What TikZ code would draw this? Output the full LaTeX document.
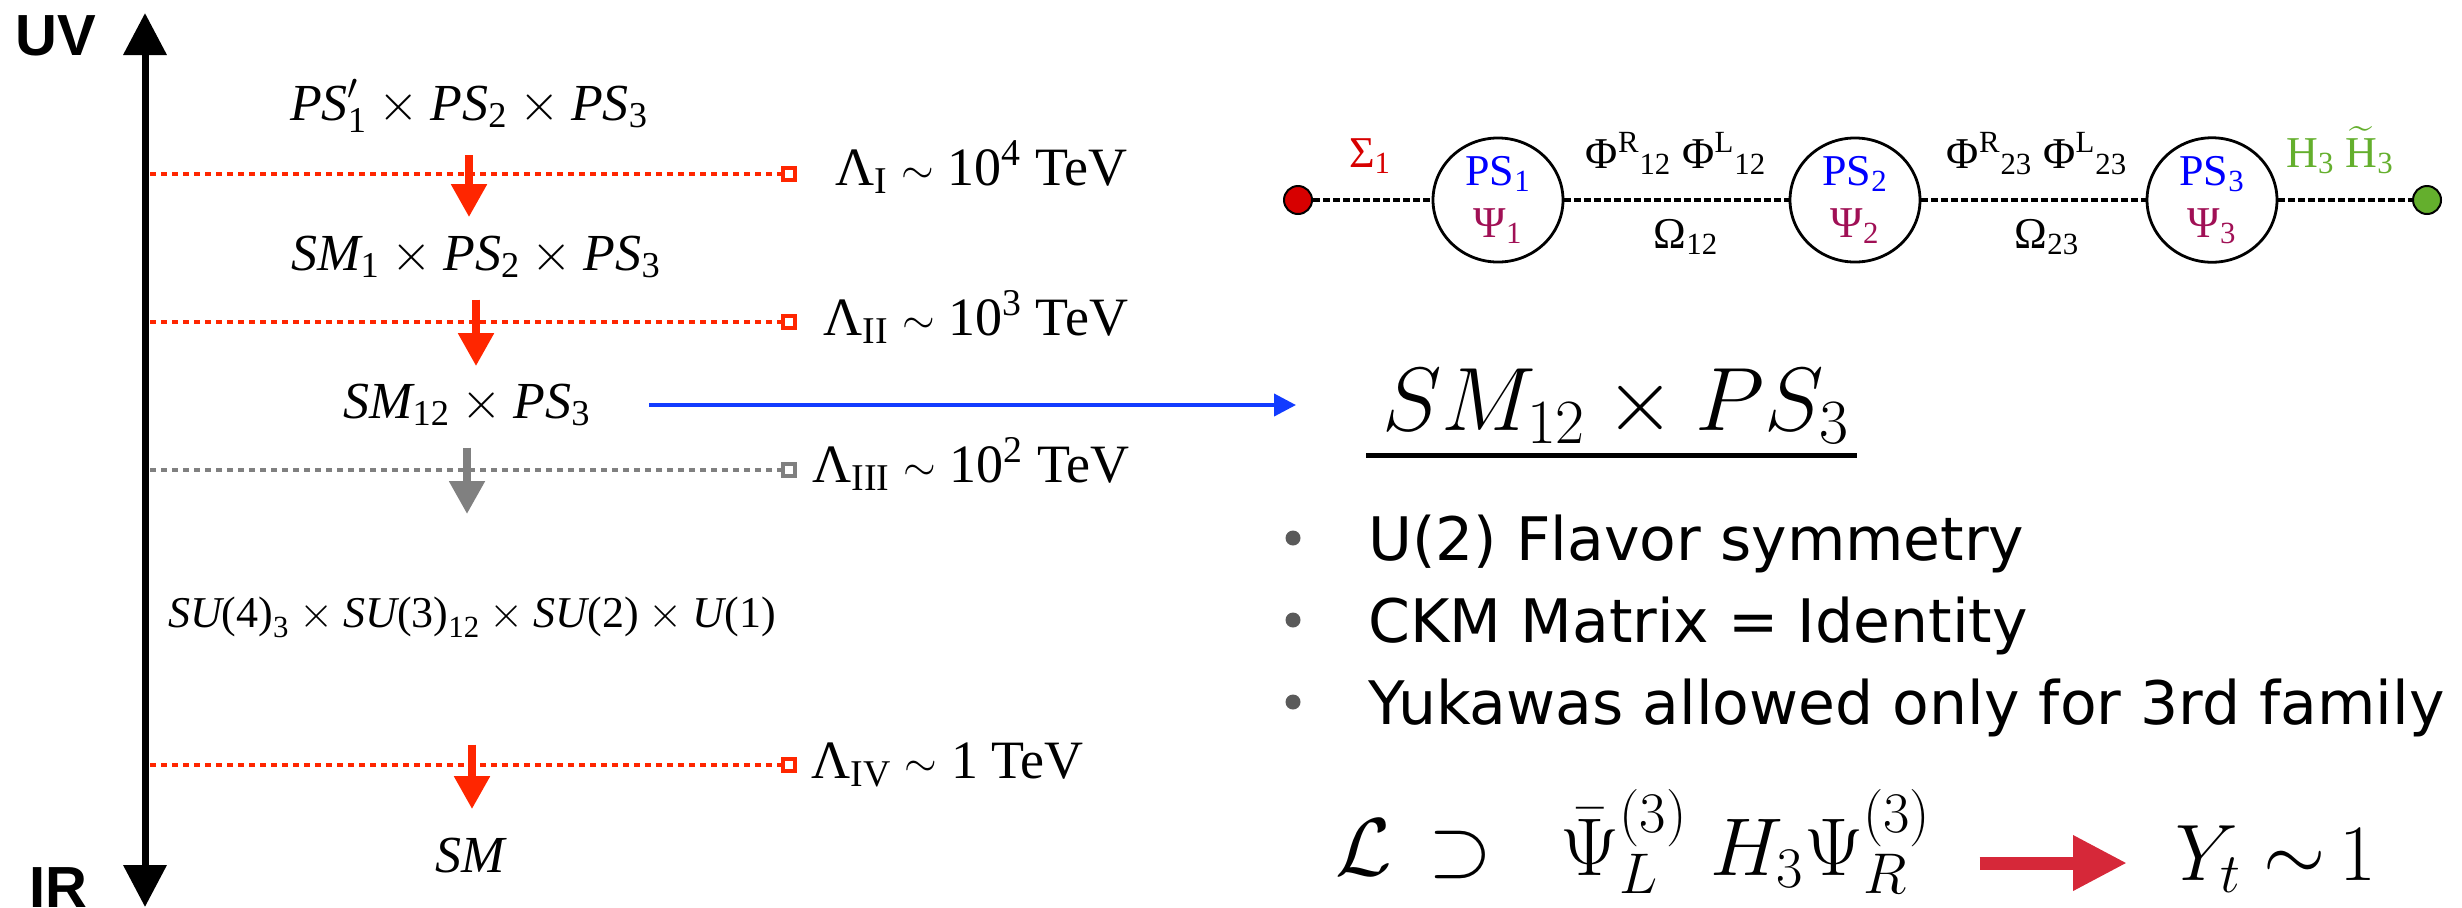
\RequirePackage{fix-cm}
\documentclass[tikz,border=0pt]{standalone}
\usepackage{amsmath}
\usepackage[no-math]{fontspec}
\setmainfont{Liberation Serif}
\newfontfamily\axisfnt{Liberation Sans}
\newfontfamily\notefnt{DejaVu Sans}
\usepackage{xcolor}
\usetikzlibrary{arrows.meta,positioning,shapes.geometric,calc}
\definecolor{cutRed}{RGB}{255,38,0}
\definecolor{cutGray}{RGB}{128,128,128}
\definecolor{flowBlue}{RGB}{18,60,255}
\definecolor{sigRed}{RGB}{215,0,0}
\definecolor{higGreen}{RGB}{100,175,45}
\definecolor{psBlue}{RGB}{0,0,255}
\definecolor{psiPurple}{RGB}{160,16,85}
\definecolor{yukRed}{RGB}{214,40,57}
\definecolor{dotGray}{RGB}{90,90,90}
\newcommand{\simsmall}{\raisebox{1pt}{\fontsize{21}{25}\selectfont$\sim$}}

\begin{document}
\begin{tikzpicture}[x=0.5pt, y=-0.5pt,
  axisline/.style={line width=3.5pt, {Triangle[width=21pt,length=21pt]}-{Triangle[width=21pt,length=21pt]}},
  axislabel/.style={inner sep=0pt, anchor=base west, font=\axisfnt\bfseries\fontsize{29}{34}\selectfont},
  lvltext/.style={inner sep=0pt, anchor=base, font=\fontsize{26}{31}\selectfont},
  scaletext/.style={inner sep=0pt, anchor=base west, font=\fontsize{27}{32}\selectfont},
  cutline/.style={line width=2pt, dash pattern=on 3pt off 2.5pt},
  cutsq/.style={draw=#1, fill=white, line width=1.8pt, minimum size=5.8pt, inner sep=0pt},
  dropdown/.style={draw=#1, line width=4pt, -{Triangle[width=17pt,length=16.5pt]}},
  fieldnode/.style={ellipse, draw, line width=1.4pt, minimum width=65pt, minimum height=58pt, inner sep=0pt, align=center, font=\fontsize{22}{26}\selectfont},
  enddot/.style={circle, draw, line width=1pt, minimum size=14pt, inner sep=0pt},
  linkline/.style={line width=1.6pt, dash pattern=on 3.3pt off 1.7pt},
  linklabel/.style={inner sep=0pt, anchor=base, font=\fontsize{22}{26}\selectfont},
  notetext/.style={inner sep=0pt, anchor=base west, font=\notefnt\fontsize{30}{36}\selectfont},
  notedot/.style={circle, fill=dotGray, minimum size=7.5pt, inner sep=0pt},
  mathbig/.style={inner sep=0pt, anchor=base west, font=\fontsize{40}{48}\selectfont}]

  \useasboundingbox (0,0) rectangle (2462,907);

  \coordinate (uvtip) at (145,13);
  \coordinate (irtip) at (145,907);
  \draw[axisline] (irtip) -- (uvtip);
  \node[axislabel] (uv) at (15,55) {UV};
  \node[axislabel] (ir) at (29,907) {IR};

  \foreach \nm/\yy/\cc in {I/174/cutRed, II/322/cutRed, III/470/cutGray, IV/765/cutRed} {
    \draw[cutline, \cc, shorten <=2.5pt] (uvtip |- 0,\yy) -- (789,\yy);
    \node[cutsq=\cc] (sq\nm) at (789,\yy) {};
  }
  \node[scaletext] (lamI) at (835,185) {Λ\textsubscript{I} \simsmall{} 10\textsuperscript{4} TeV};
  \node[scaletext] (lamII) at (823,335) {Λ\textsubscript{II} \simsmall{} 10\textsuperscript{3} TeV};
  \node[scaletext] (lamIII) at (812,482) {Λ\textsubscript{III} \simsmall{} 10\textsuperscript{2} TeV};
  \node[scaletext] (lamIV) at (811,778) {Λ\textsubscript{IV} \simsmall{} 1 TeV};

  \node[lvltext] (lvl1) at (469,120) {$\textit{PS}'_{\textup{1}}\times\textit{PS}_{\textup{2}}\times\textit{PS}_{\textup{3}}$};
  \node[lvltext] (lvl2) at (476,270) {$\textit{SM}_{\textup{1}}\times\textit{PS}_{\textup{2}}\times\textit{PS}_{\textup{3}}$};
  \node[lvltext] (lvl3) at (467,418) {$\textit{SM}_{\textup{12}}\times\textit{PS}_{\textup{3}}$};
  \node[lvltext, font=\fontsize{22}{26}\selectfont] (lvl4) at (472,627) {$\textit{SU}\textup{(4)}_{\textup{3}}\times\textit{SU}\textup{(3)}_{\textup{12}}\times\textit{SU}\textup{(2)}\times\textit{U}\textup{(1)}$};
  \node[lvltext] (lvl5) at (471,872) {\textit{SM}};

  \draw[dropdown=cutRed, shorten <=11pt, shorten >=9pt] (lvl1.south) -- (lvl1.south |- lvl2.north);
  \draw[dropdown=cutRed, shorten <=10.5pt, shorten >=8.5pt] (lvl2.south) -- (lvl2.south |- lvl3.north);
  \draw[dropdown=cutGray, shorten <=10.5pt, shorten >=41pt] (lvl3.south) -- (lvl3.south |- lvl4.north);
  \draw[dropdown=cutRed, shorten <=53pt, shorten >=14pt] (lvl4.south) -- (lvl4.south |- lvl5.north);

  \node[enddot, fill=sigRed] (sig) at (1298,200) {};
  \node[fieldnode] (ps1) at (1498,200) {\textcolor{psBlue}{PS\textsubscript{1}}\\\textcolor{psiPurple}{Ψ\textsubscript{1}}};
  \node[fieldnode] (ps2) at (1855,200) {\textcolor{psBlue}{PS\textsubscript{2}}\\\textcolor{psiPurple}{Ψ\textsubscript{2}}};
  \node[fieldnode] (ps3) at (2212,200) {\textcolor{psBlue}{PS\textsubscript{3}}\\\textcolor{psiPurple}{Ψ\textsubscript{3}}};
  \node[enddot, fill=higGreen] (hig) at (2427,200) {};
  \draw[linkline] (sig) -- (ps1);
  \draw[linkline] (ps1) -- (ps2);
  \draw[linkline] (ps2) -- (ps3);
  \draw[linkline] (ps3) -- (hig);
  \node[linklabel, sigRed] (siglab) at (1370,167) {Σ\textsubscript{1}};
  \node[linklabel] (phi12) at (1676,168) {Φ\textsuperscript{R}\textsubscript{12} Φ\textsuperscript{L}\textsubscript{12}};
  \node[linklabel] (om12) at (1686,248) {Ω\textsubscript{12}};
  \node[linklabel] (phi23) at (2037,168) {Φ\textsuperscript{R}\textsubscript{23} Φ\textsuperscript{L}\textsubscript{23}};
  \node[linklabel] (om23) at (2047,248) {Ω\textsubscript{23}};
  \node[linklabel, higGreen] (higlab) at (2340,167) {H\textsubscript{3} $\widetilde{\mbox{H}}$\textsubscript{3}};

  \node[inner sep=0pt, anchor=base west, font=\fontsize{45}{54}\selectfont] (head) at (1382,430) {$SM_{12}\times PS_3$};
  \draw[line width=2.5pt] ([shift={(-8pt,-12.5pt)}]head.base west) -- ([shift={(4pt,-12.5pt)}]head.base east);
  \draw[flowBlue, line width=2pt, -{Triangle[width=11pt,length=11pt]}, shorten <=29pt, shorten >=43pt]
    ([yshift=6.5pt]lvl3.base east) -- ([yshift=6.5pt]lvl3.base east -| head.west);

  \foreach \txt [count=\i] in {U(2) Flavor symmetry, CKM Matrix = Identity, Yukawas allowed only for 3rd family} {
    \node[notetext] (note\i) at (1368,{560+82*(\i-1)}) {\txt};
    \node[notedot] (dot\i) at ([shift={(-37.5pt,11pt)}]note\i.base west) {};
  }

  \node[mathbig, font=\fontsize{41}{49}\selectfont] (lag) at (1335,875) {$\mathcal{L}\,\supset\;\;\bar{\Psi}^{(3)}_L\;H_3\Psi^{(3)}_R$};
  \node[mathbig] (yuk) at (2175,880) {$Y_t\;{\sim}\,1$};
  \draw[yukRed, line width=6.5pt, -{Triangle[width=26pt,length=27pt]}, shorten <=24pt, shorten >=24pt]
    ([yshift=6pt]lag.base east) -- ([yshift=6pt]lag.base east -| yuk.west);
\end{tikzpicture}
\end{document}
